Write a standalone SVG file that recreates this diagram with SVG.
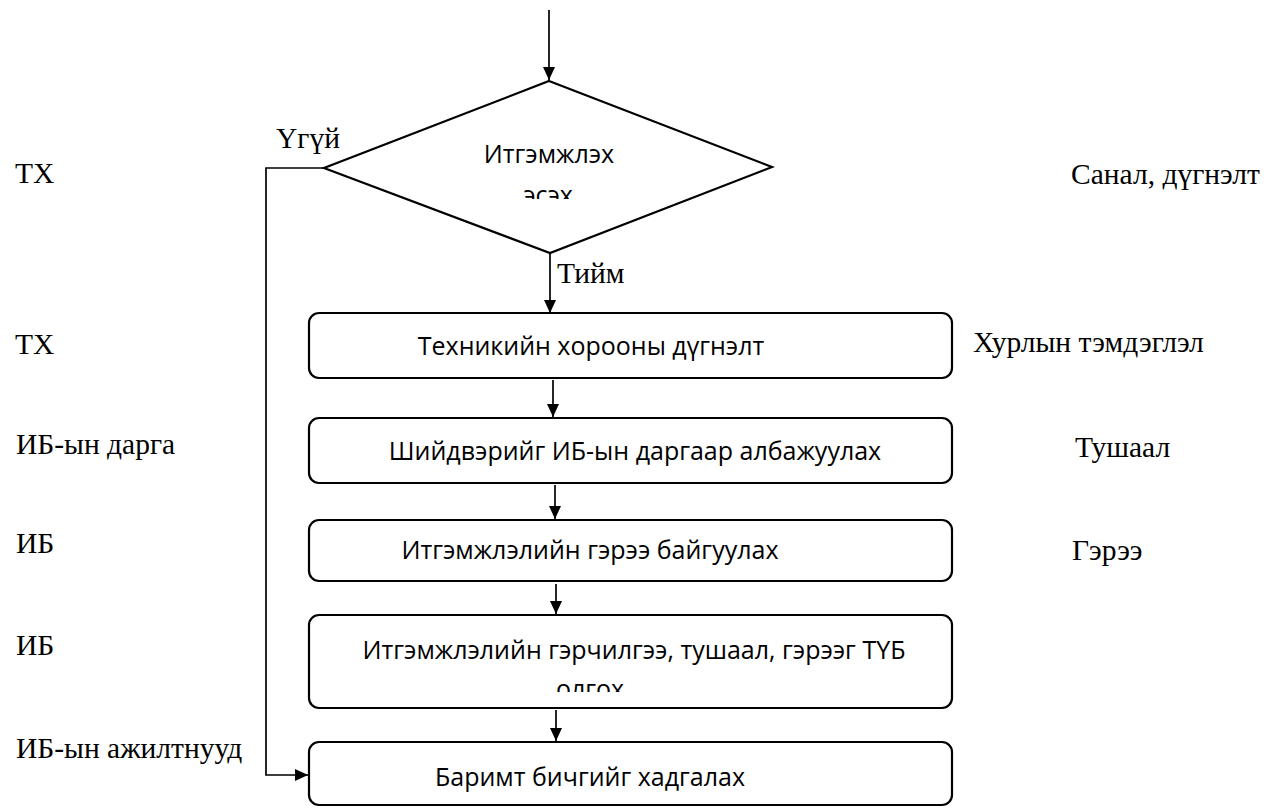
<svg xmlns="http://www.w3.org/2000/svg" width="1273" height="808" viewBox="0 0 1273 808">
<style>
.lbl{font-family:"Liberation Serif","Times New Roman",serif;font-size:29.5px;fill:#000}
.bt{font-family:"Open Sans","Noto Sans",sans-serif;font-size:25px;fill:#000;text-anchor:middle}
.box{fill:#fff;stroke:#000;stroke-width:2.2}
.ln{fill:none;stroke:#000;stroke-width:1.7}
</style>
<defs>
<marker id="ah" markerWidth="13" markerHeight="13" refX="13" refY="6.5" orient="auto" markerUnits="userSpaceOnUse">
<path d="M0,0.5 L13,6.5 L0,12.5 Z" fill="#000"/>
</marker>
<clipPath id="cd"><rect x="300" y="80" width="500" height="119"/></clipPath>
<clipPath id="c4"><rect x="300" y="613" width="660" height="79"/></clipPath>
</defs>
<rect width="1273" height="808" fill="#fff"/>
<g id="connectors">
<line class="ln" x1="549" y1="10" x2="549" y2="80" marker-end="url(#ah)"/>
<line class="ln" x1="550" y1="253" x2="550" y2="313" marker-end="url(#ah)"/>
<line class="ln" x1="553" y1="380" x2="553" y2="417" marker-end="url(#ah)"/>
<line class="ln" x1="555" y1="485" x2="555" y2="519" marker-end="url(#ah)"/>
<line class="ln" x1="556" y1="584" x2="556" y2="614" marker-end="url(#ah)"/>
<line class="ln" x1="556" y1="710" x2="556" y2="741" marker-end="url(#ah)"/>
<polyline class="ln" points="324,168 266,168 266,775 308,775" marker-end="url(#ah)"/>
<text class="lbl" x="276" y="148">Үгүй</text>
<text class="lbl" x="557" y="283">Тийм</text>
</g>
<g id="decision">
<polygon points="549,81 772,167 550,253 324,168" fill="#fff" stroke="#000" stroke-width="2.2"/>
<g clip-path="url(#cd)">
<text class="bt" x="549" y="163">Итгэмжлэх</text>
<text class="bt" x="548" y="204">эсэх</text>
</g>
</g>
<g id="box1"><rect class="box" x="309" y="313" width="643" height="65" rx="10"/><text class="bt" x="591" y="355">Техникийн хорооны дүгнэлт</text></g>
<g id="box2"><rect class="box" x="309" y="418" width="643" height="65" rx="10"/><text class="bt" x="635" y="460">Шийдвэрийг ИБ-ын даргаар албажуулах</text></g>
<g id="box3"><rect class="box" x="309" y="520" width="643" height="61" rx="10"/><text class="bt" x="590" y="559">Итгэмжлэлийн гэрээ байгуулах</text></g>
<g id="box4"><rect class="box" x="309" y="615" width="643" height="93" rx="10"/>
<g clip-path="url(#c4)"><text class="bt" x="634" y="659">Итгэмжлэлийн гэрчилгээ, тушаал, гэрээг ТҮБ</text><text class="bt" x="590" y="698">олгох</text></g></g>
<g id="box5"><rect class="box" x="309" y="742" width="643" height="63" rx="10"/><text class="bt" x="590" y="786">Баримт бичгийг хадгалах</text></g>
<g id="left-labels">
<text class="lbl" x="15" y="183">ТХ</text>
<text class="lbl" x="15" y="354">ТХ</text>
<text class="lbl" x="16" y="454">ИБ-ын дарга</text>
<text class="lbl" x="16" y="553">ИБ</text>
<text class="lbl" x="16" y="655">ИБ</text>
<text class="lbl" x="16" y="758">ИБ-ын ажилтнууд</text>
</g>
<g id="right-labels">
<text class="lbl" x="1071" y="184">Санал, дүгнэлт</text>
<text class="lbl" x="973" y="352">Хурлын тэмдэглэл</text>
<text class="lbl" x="1075" y="457">Тушаал</text>
<text class="lbl" x="1072" y="560">Гэрээ</text>
</g>
</svg>
